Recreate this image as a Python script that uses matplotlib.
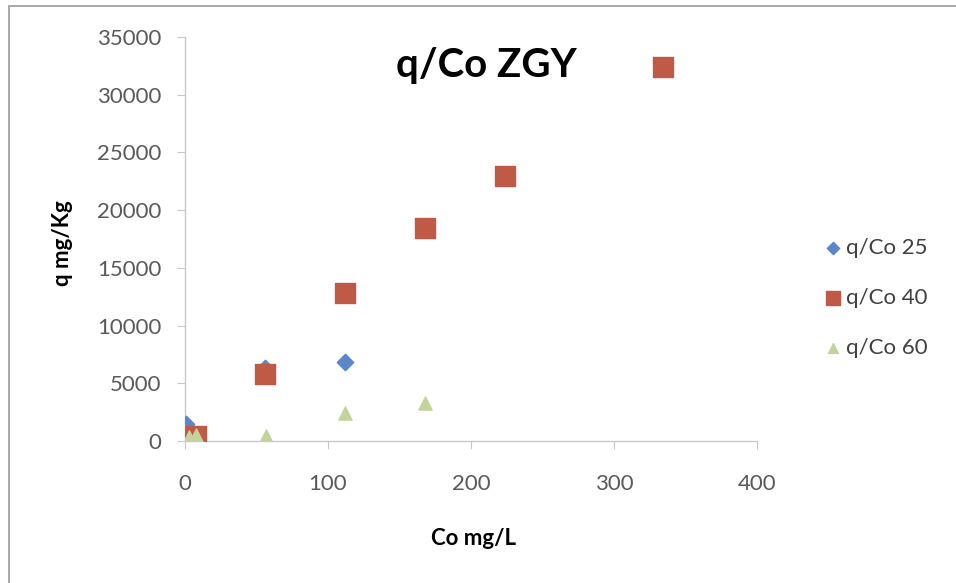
import matplotlib.pyplot as plt
from matplotlib.patches import Rectangle

plt.rcParams['font.family'] = ['Lato', 'DejaVu Sans']

# q/Co series at three temperatures
co_25 = [1, 56, 112]
q_25 = [1500, 6300, 6800]

co_40 = [1, 8, 56, 112, 168, 224, 334]
q_40 = [200, 400, 5800, 12800, 18450, 22950, 32400]

co_60 = [3, 8, 57, 112, 168]
q_60 = [350, 550, 400, 2400, 3300]

labels = ["q/Co 25", "q/Co 40", "q/Co 60"]

fig = plt.figure(figsize=(9.56, 5.83), dpi=100)
fig.patches.append(Rectangle((0.009, -0.1), 1.2, 1.09, transform=fig.transFigure,
                             fill=False, edgecolor='#9a9a9a', linewidth=1.2))

ax = fig.add_axes([0.1935, 0.2436, 0.5983, 0.6929])
ax.scatter(co_25, q_25, marker='D', s=70, color='#5b86c8', label=labels[0], zorder=3)
ax.scatter(co_40, q_40, marker='s', s=190, color='#bf5a47', label=labels[1], zorder=3)
ax.scatter(co_60, q_60, marker='^', s=90, color='#c3d39b', label=labels[2], zorder=4)

ax.set_xlim(0, 400)
ax.set_ylim(0, 35000)
ax.set_xticks([0, 100, 200, 300, 400])
ax.set_yticks(range(0, 35001, 5000))

for side in ['top', 'right']:
    ax.spines[side].set_visible(False)
for side in ['left', 'bottom']:
    ax.spines[side].set_color('#c8c8c8')
    ax.spines[side].set_linewidth(1.0)

ax.tick_params(axis='both', colors='#c8c8c8', labelcolor='#595959', labelsize=16,
               length=6, direction='out')
ax.tick_params(axis='y', pad=11)
ax.tick_params(axis='x', pad=18)

fig.text(0.509, 0.888, "q/Co ZGY", fontsize=29, fontweight='bold', ha='center', va='center')
fig.text(0.065, 0.583, "q mg/Kg", fontsize=16, fontweight='bold', rotation=90,
         ha='center', va='center')
fig.text(0.495, 0.077, "Co mg/L", fontsize=16, fontweight='bold', ha='center', va='center')

leg = fig.legend(loc='center left', bbox_to_anchor=(0.85, 0.489), frameon=False,
                 fontsize=16, handletextpad=0.1, labelspacing=1.35, markerscale=0.75,
                 handlelength=1.0, borderaxespad=0)
for t in leg.get_texts():
    t.set_color('#404040')

fig.savefig("out.png", dpi=100)
